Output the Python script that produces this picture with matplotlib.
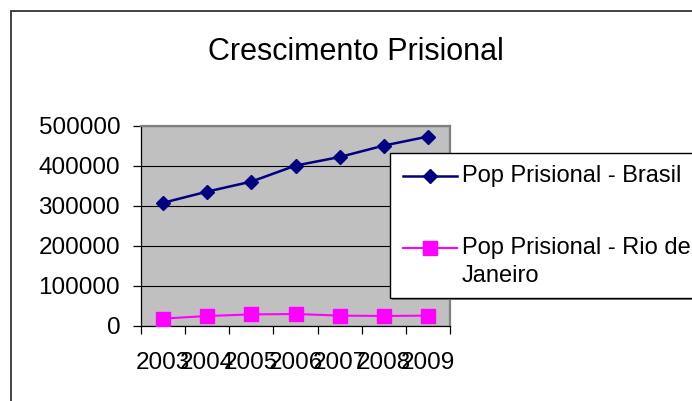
import matplotlib
matplotlib.use("Agg")
import matplotlib.pyplot as plt
from matplotlib.lines import Line2D
from matplotlib.patches import Rectangle

# data
years = ["2003", "2004", "2005", "2006", "2007", "2008", "2009"]
brasil = [308000, 336000, 361000, 401000, 422500, 451000, 473600]
rio = [18500, 25000, 29000, 30000, 26000, 25000, 26000]
series_names = ["Pop Prisional - Brasil", "Pop Prisional - Rio de\nJaneiro"]
y_ticks = [0, 100000, 200000, 300000, 400000, 500000]

W, H = 692, 401
navy = "#000080"
magenta = "#FF00FF"
font = "Liberation Sans"
plt.rcParams["font.family"] = [font, "DejaVu Sans"]


def fx(x):
  return x / W


def fy(y):
  return 1 - y / H


fig = plt.figure(figsize=(W / 100, H / 100), dpi=100)
fig.patch.set_facecolor("white")

# outer chart border (runs off the right and bottom edges)
fig.add_artist(Rectangle((fx(11), fy(H + 20)), fx(W + 20) - fx(11), fy(11) - fy(H + 20),
                         transform=fig.transFigure, fill=False, edgecolor="#222222", linewidth=1.2))

ax = fig.add_axes([fx(141), fy(326), fx(450) - fx(141), fy(126) - fy(326)])
ax.set_facecolor("#C0C0C0")
x = list(range(len(years)))
ax.plot(x, brasil, color=navy, linewidth=1.8, marker="D", markersize=7,
        markerfacecolor=navy, markeredgecolor=navy, zorder=3)
ax.plot(x, rio, color=magenta, linewidth=1.5, marker="s", markersize=10,
        markerfacecolor=magenta, markeredgecolor=magenta, zorder=3)

ax.set_xlim(-0.5, len(years) - 0.5)
ax.set_ylim(0, 500000)
ax.set_yticks(y_ticks)
ax.set_yticklabels([str(v) for v in y_ticks])
ax.set_xticks(x)
ax.set_xticklabels(years)
ax.set_xticks([i - 0.5 for i in range(len(years) + 1)], minor=True)
ax.tick_params(axis="x", which="major", length=0, pad=19, labelsize=17.5)
ax.tick_params(axis="x", which="minor", length=5.5, width=0.9, direction="out", color="black")
ax.tick_params(axis="y", length=6, width=0.9, direction="out", pad=9, labelsize=17.5, color="black")
ax.grid(axis="y", color="black", linewidth=0.8)
ax.set_axisbelow(True)
for side in ["top", "right"]:
  ax.spines[side].set_color("#808080")
  ax.spines[side].set_linewidth(1.6)
for side in ["left", "bottom"]:
  ax.spines[side].set_color("black")
  ax.spines[side].set_linewidth(0.9)

fig.text(fx(356), fy(52), "Crescimento Prisional", ha="center", va="center", fontsize=22)

# legend box, clipped by the right edge like the reference
fig.add_artist(Rectangle((fx(392), fy(300)), fx(W + 20) - fx(392), fy(155) - fy(300),
                         transform=fig.transFigure, facecolor="#808080", edgecolor="none", zorder=5))
fig.add_artist(Rectangle((fx(390), fy(298)), fx(W + 20) - fx(390), fy(153) - fy(298),
                         transform=fig.transFigure, facecolor="white", edgecolor="black",
                         linewidth=1.0, zorder=6))
legend_rows = [(176, navy, "D", 7, 1.8), (248, magenta, "s", 10, 1.5)]
for (row_y, color, marker, ms, lw), name in zip(legend_rows, series_names):
  fig.add_artist(Line2D([fx(403), fx(457)], [fy(row_y), fy(row_y)], transform=fig.transFigure,
                        color=color, linewidth=lw, zorder=7))
  fig.add_artist(Line2D([fx(430)], [fy(row_y)], transform=fig.transFigure, color=color,
                        marker=marker, markersize=ms, linestyle="none", zorder=7))
  for k, line in enumerate(name.split("\n")):
    fig.text(fx(462), fy(row_y + 28 * k), line, ha="left", va="center", fontsize=17, zorder=8)

fig.savefig("out.png", dpi=100)
